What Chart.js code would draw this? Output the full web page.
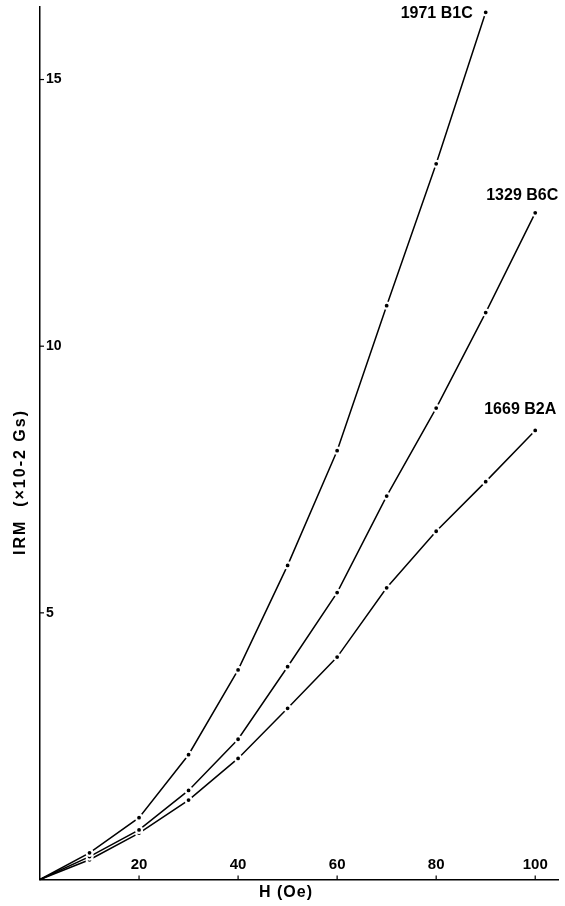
<!DOCTYPE html>
<html lang="en">
  <head>
    <meta charset="utf-8" />
    <style>
      * {
        margin: 0;
        padding: 0;
      }
      body {
        background: #fff;
      }
      .chartBox {
        width: 565px;
        height: 906px;
      }
    </style>
  </head>
  <body>
    <div class="chartBox">
      <canvas id="myChart"></canvas>
    </div>
    <script src="https://cdn.jsdelivr.net/npm/chart.js/dist/chart.umd.min.js"></script>
    <script>
      // data
      const fieldH = [0, 10, 20, 30, 40, 50, 60, 70, 80, 90, 100];
      const irm1971 = [0, 0.5, 1.16, 2.34, 3.93, 5.89, 8.04, 10.76, 13.42, 16.26];
      const irm1329 = [0, 0.43, 0.93, 1.67, 2.63, 3.99, 5.38, 7.19, 8.84, 10.63, 12.5];
      const irm1669 = [0, 0.37, 0.87, 1.49, 2.27, 3.21, 4.17, 5.47, 6.53, 7.46, 8.42];
      const seriesNames = ["1971 B1C", "1329 B6C", "1669 B2A"];
      const xTicks = [20, 40, 60, 80, 100];
      const yTicks = [5, 10, 15];

      const font = "'Liberation Sans', Arial, sans-serif";

      function toPoints(values) {
        return values.map((v, i) => ({ x: fieldH[i], y: v }));
      }

      function makeSet(label, values) {
        return {
          label,
          data: toPoints(values),
          borderColor: "#000",
          borderWidth: 1.5,
          tension: 0,
          pointRadius: values.map((v, i) => (i === 0 ? 0 : 3)),
          pointBackgroundColor: "#000",
          pointBorderColor: "#fff",
          pointBorderWidth: 2.2,
          clip: false,
        };
      }

      // offsets of the curve names from each curve's last point
      const nameOffsets = [
        { dx: -13, dy: 1, align: "right" },
        { dx: -13, dy: -17, align: "center" },
        { dx: -15, dy: -21, align: "center" },
      ];

      const decorations = {
        id: "decorations",
        afterDatasetsDraw(chart) {
          const { ctx, scales } = chart;
          const x = scales.x;
          const y = scales.y;
          ctx.save();
          ctx.strokeStyle = "#000";
          ctx.lineWidth = 1.2;
          // inward tick marks
          xTicks.forEach((t) => {
            const px = x.getPixelForValue(t);
            ctx.beginPath();
            ctx.moveTo(px, y.bottom);
            ctx.lineTo(px, y.bottom - 4);
            ctx.stroke();
          });
          yTicks.forEach((t) => {
            const py = y.getPixelForValue(t);
            ctx.beginPath();
            ctx.moveTo(x.left, py);
            ctx.lineTo(x.left + 4, py);
            ctx.stroke();
          });

          // curve names
          ctx.fillStyle = "#000";
          ctx.font = "bold 16px " + font;
          ctx.textBaseline = "middle";
          chart.data.datasets.forEach((ds, i) => {
            const pts = chart.getDatasetMeta(i).data;
            const last = pts[pts.length - 1];
            const o = nameOffsets[i];
            ctx.textAlign = o.align;
            ctx.fillText(ds.label, last.x + o.dx, last.y + o.dy);
          });

          // axis titles
          ctx.font = "bold 16px " + font;
          ctx.textAlign = "center";
          ctx.letterSpacing = "1px";
          ctx.fillText("H (Oe)", 286, 893);
          ctx.translate(21, 482);
          ctx.rotate(-Math.PI / 2);
          ctx.letterSpacing = "2px";
          ctx.fillText("IRM  (×10-2 Gs)", 0, 0);
          ctx.restore();
        },
      };

      const config = {
        type: "line",
        data: {
          datasets: [
            makeSet(seriesNames[0], irm1971),
            makeSet(seriesNames[1], irm1329),
            makeSet(seriesNames[2], irm1669),
          ],
        },
        options: {
          responsive: true,
          maintainAspectRatio: false,
          animation: false,
          layout: { padding: { top: 7, right: 7, left: 0, bottom: 0 } },
          plugins: {
            legend: { display: false },
            tooltip: { enabled: false },
          },
          scales: {
            x: {
              type: "linear",
              min: 0,
              max: 104.6,
              afterFit: (s) => {
                s.height = 26.5;
                s.paddingLeft = 0;
                s.paddingRight = 0;
              },
              afterBuildTicks: (s) => {
                s.ticks = xTicks.map((v) => ({ value: v }));
              },
              grid: { drawOnChartArea: false, drawTicks: false },
              border: { color: "#000", width: 1.5 },
              ticks: {
                mirror: true,
                padding: 6,
                color: "#000",
                maxRotation: 0,
                autoSkip: false,
                font: { family: font, size: 15, weight: "bold" },
              },
            },
            y: {
              type: "linear",
              min: 0,
              max: 16.36,
              afterFit: (s) => {
                s.width = 40;
                s.paddingTop = 0;
                s.paddingBottom = 0;
              },
              afterBuildTicks: (s) => {
                s.ticks = yTicks.map((v) => ({ value: v }));
              },
              grid: { drawOnChartArea: false, drawTicks: false },
              border: { color: "#000", width: 1.5 },
              ticks: {
                mirror: true,
                padding: 6,
                color: "#000",
                font: { family: font, size: 14, weight: "bold" },
              },
            },
          },
        },
        plugins: [decorations],
      };

      const myChart = new Chart(document.getElementById("myChart"), config);
    </script>
  </body>
</html>
